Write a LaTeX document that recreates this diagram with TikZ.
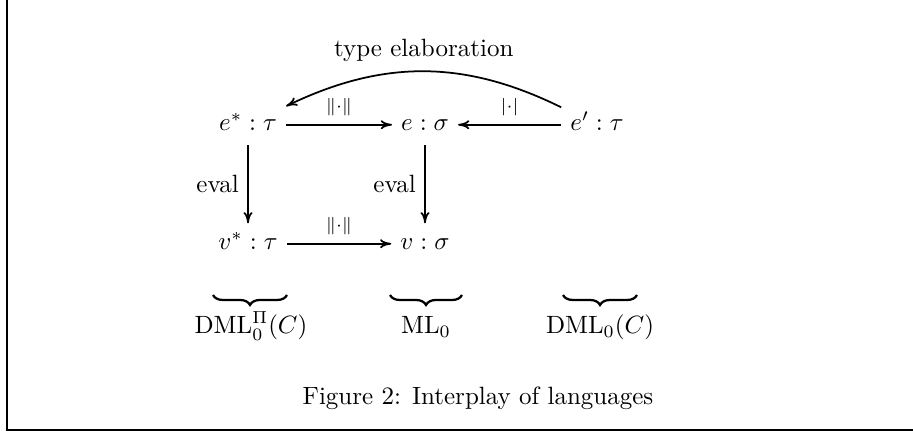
\documentclass[tikz,border=0pt]{standalone}
\usepackage{amsmath}
\usepackage{amssymb}
\usetikzlibrary{arrows.meta,decorations.pathreplacing}

\begin{document}
\begin{tikzpicture}[x=0.4pt, y=0.4pt, line width=0.7pt,
  >={Computer Modern Rightarrow[length=4.5pt,width=3.6pt]},
  term/.style={anchor=base, text height=7pt, text depth=2pt},
  lang/.style={anchor=base},
  langbrace/.style={decorate, decoration={brace, mirror, amplitude=4pt}, line width=0.9pt}]
\useasboundingbox (0,0) rectangle (913,433);

% frame of the figure
\draw[line width=0.8pt] (7,433) |- (913,2.5);

% terms
\node[term] (es) at (248,302) {$e^* : \tau$};
\node[term] (e)  at (425,302) {$e : \sigma$};
\node[term] (ep) at (597,302) {$e' : \tau$};
\node[term] (vs) at (248,183) {$v^* : \tau$};
\node[term] (v)  at (425,183) {$v : \sigma$};

\draw[->] (es) -- node[above] {$\scriptstyle\|\cdot\|$} (e);
\draw[->] (ep) -- node[above] {$\scriptstyle|\cdot|$} (e);
\draw[->] (vs) -- node[above] {$\scriptstyle\|\cdot\|$} (v);
\draw[->] (es) -- node[left] {eval} (vs);
\draw[->] (e) -- node[left] {eval} (v);
\draw[->] (ep) to[bend right=26] node[above] {type elaboration} (es);

% languages
\coordinate (b1l) at (213,138);
\coordinate (b1r) at (287,138);
\coordinate (b2l) at (390,138);
\coordinate (b2r) at (462,138);
\coordinate (b3l) at (563,138);
\coordinate (b3r) at (637,138);
\draw[langbrace] (b1l) -- (b1r);
\draw[langbrace] (b2l) -- (b2r);
\draw[langbrace] (b3l) -- (b3r);
\node[lang] (dmlpi) at (251,99) {$\mathrm{DML}_0^\Pi(C)$};
\node[lang] (ml)    at (426,99) {$\mathrm{ML}_0$};
\node[lang] (dml)   at (600,99) {$\mathrm{DML}_0(C)$};

\node[lang] (caption) at (478,28) {Figure 2: Interplay of languages};
\end{tikzpicture}
\end{document}
